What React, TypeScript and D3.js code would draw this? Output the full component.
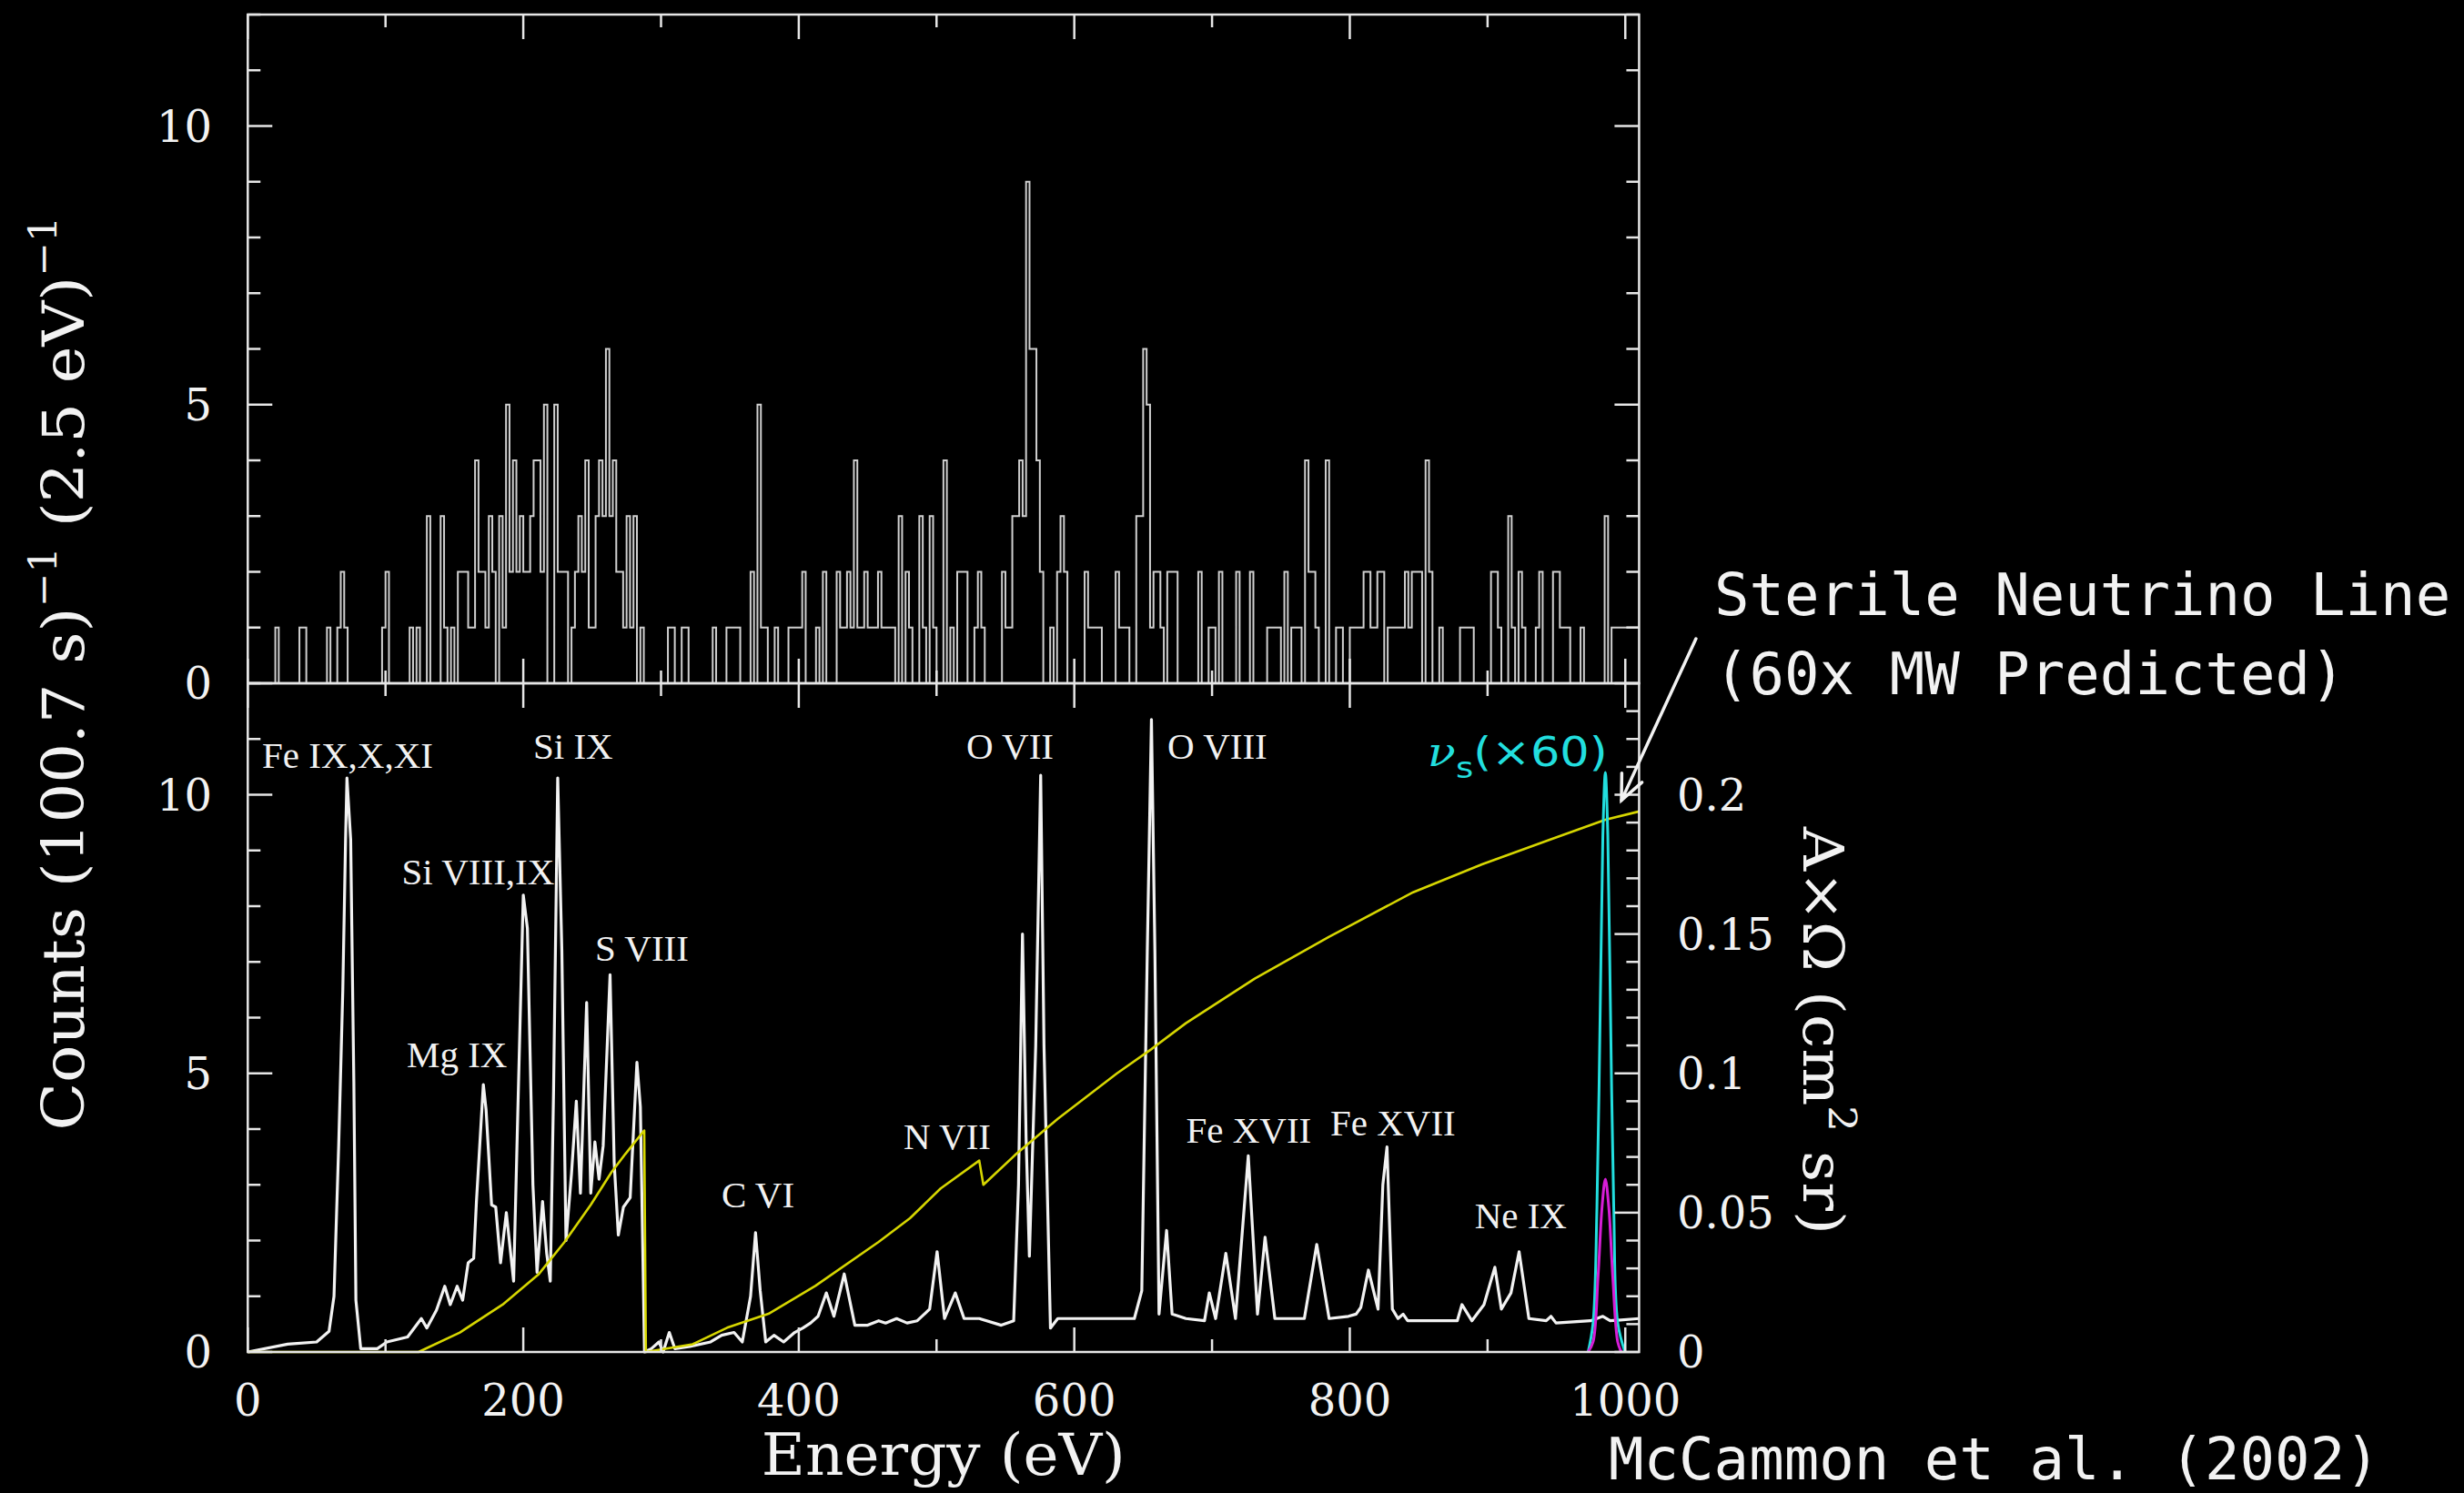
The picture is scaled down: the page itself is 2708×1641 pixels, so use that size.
import React from 'react';
import * as d3 from 'd3';

const W = 2708;
const H = 1641;

// ---------- data ----------
// Upper panel: raw counts per 2.5 eV bin, starting at 0 eV
const histBinWidth = 2.5;
const histCounts: number[] = [
  0,0,0,0,0,0,0,0,1,0, 0,0,0,0,0,1,1,0,0,0,
  0,0,0,1,0,0,1,2,1,0, 0,0,0,0,0,0,0,0,0,1,
  2,0,0,0,0,0,0,1,0,1, 0,0,3,0,0,0,3,1,0,1,
  0,2,2,2,1,1,4,2,2,1, 3,2,0,3,1,5,2,4,2,3,
  2,2,3,4,4,2,5,0,0,5, 2,2,2,0,1,2,3,2,4,1,
  1,3,4,3,6,3,4,2,2,1, 3,1,3,0,1,0,0,0,0,0,
  0,0,1,1,0,0,1,1,0,0, 0,0,0,0,0,1,0,0,0,1,
  1,1,1,0,0,0,2,0,5,1, 1,0,0,1,0,0,0,1,1,1,
  1,2,0,0,0,1,0,2,0,0, 0,2,1,1,2,1,4,1,1,2,
  1,1,1,2,1,1,1,1,0,3, 0,2,1,0,0,3,1,0,3,1,
  0,0,4,0,1,0,2,2,2,0, 0,1,2,1,0,0,0,0,0,2,
  1,1,3,3,4,3,9,6,6,4, 2,0,0,1,0,2,3,2,0,0,
  0,0,0,2,1,1,1,1,0,0, 0,0,2,1,1,1,0,0,3,3,
  6,5,1,2,2,1,0,2,2,2, 0,0,0,0,0,0,2,0,0,1,
  1,0,2,0,0,0,0,2,0,0, 0,2,0,0,0,0,1,1,1,1,
  0,2,0,1,1,1,0,4,2,2, 1,0,0,4,0,0,1,1,0,0,
  1,1,1,1,2,2,1,1,2,2, 0,1,1,1,1,1,2,1,2,2,
  2,0,4,2,0,0,1,0,0,0, 0,0,1,1,1,1,0,0,0,0,
  0,2,2,1,0,0,3,1,0,2, 1,0,0,0,1,2,0,0,0,2,
  2,1,1,1,0,0,0,1,0,0, 0,0,0,0,3,0,1,1,1,1,
  1,1,1,1,
];

// Lower panel: model spectrum [energy eV, counts]
const spectrum: [number, number][] = [
  [0,0],[29,0.14],[50,0.18],[59,0.37],[62.6,1.0],[66,3.7],[69,6.5],[71,9.2],[72,10.3],[74.7,9.2],[77,4.85],[78.5,0.93],[82,0.06],
  [94,0.06],[101,0.18],[116,0.27],[126,0.6],[130,0.43],[137,0.75],[143,1.18],[147,0.85],[152,1.18],[156,0.93],[160,1.6],[164,1.68],
  [166,2.7],[171,4.8],[173,4.35],[177,2.64],[180,2.6],[183.5,1.6],[187.7,2.5],[193,1.27],[196,4.27],[200,8.2],[203,7.6],[207,3.0],
  [210,1.43],[214,2.7],[217,1.77],[219.6,1.27],[222,4.7],[225,10.3],[228,7.2],[231,2.0],[235,3.2],[238.5,4.5],[241.5,2.85],
  [246,6.27],[249,2.85],[252,3.77],[255,3.1],[258,3.7],[263,6.77],[266,3.4],[269,2.1],[272.7,2.6],[277.6,2.77],[282.5,5.2],
  [285,4.4],[288,0],[293,0.06],[298.5,0.18],[301.5,0],[306,0.35],[310,0.06],[321,0.1],[336,0.18],[344,0.3],[353,0.35],
  [359,0.18],[365,1.0],[368.6,2.14],[372,1.1],[376,0.18],[382,0.3],[389,0.18],[397,0.35],[403,0.43],[408.6,0.52],[414,0.64],
  [420,1.06],[425.5,0.64],[433,1.4],[440.7,0.48],[450,0.48],[458,0.56],[463,0.52],[471,0.6],[478.6,0.52],[486,0.56],[495,0.77],
  [500.4,1.8],[505.8,0.6],[513.6,1.06],[520,0.6],[531,0.6],[547,0.48],[556,0.56],[559.5,3.0],[562.4,7.5],[565,3.85],[567.4,1.72],
  [572,5.5],[575.6,10.35],[578,5.5],[582.7,0.43],[588,0.6],[598.8,0.6],[624,0.6],[643.6,0.6],[649,1.1],[653,7.2],[656,11.35],
  [658.5,7.2],[661.5,0.68],[667,2.18],[671,0.68],[681,0.6],[694.5,0.56],[698,1.06],[702.6,0.6],[710,1.77],[717,0.6],[726.3,3.52],
  [733,0.68],[738.5,2.06],[745.6,0.6],[767,0.6],[776,1.93],[785,0.6],[799,0.64],[804.6,0.68],[808,0.8],[813.5,1.47],[820.5,0.77],
  [824,3.0],[827,3.68],[830.9,0.77],[835,0.6],[838.7,0.68],[842,0.56],[856.5,0.56],[878,0.56],[881.4,0.85],[888.6,0.56],
  [897.4,0.85],[905.3,1.52],[910,0.77],[917,1.06],[922.9,1.8],[930,0.6],[942.6,0.56],[946,0.64],[949.7,0.52],[974.8,0.56],
  [983.7,0.64],[989,0.56],[1010,0.6],
];

// Effective area A x Omega (cm^2 sr) [energy eV, value]
const effArea: [number, number][] = [
  [0,0],[124,0],[154,0.007],[185,0.017],[211,0.0278],[230,0.0395],[249,0.0528],[264,0.0645],[274,0.071],[287.8,0.0795],
  [289,0],[323,0.0028],[348,0.0087],[378,0.0137],[412,0.0237],[458,0.0395],[480.7,0.048],[503,0.0587],[531,0.0687],
  [534,0.06],[557.7,0.071],[588,0.0837],[631,0.1],[656,0.1087],[681,0.118],[731,0.134],[785,0.149],[846,0.165],[896,0.175],
  [946,0.184],[985.5,0.191],[1010,0.194],
];

// Sterile neutrino line (x60) and MW predicted, in counts
const nuScaled: [number, number][] = [
  [973.0,0],[976.6,0.52],[979.4,2.6],[981.9,6.35],[983.7,9.27],[985.5,10.4],[987.3,9.27],[989.1,6.35],[991.6,2.6],[994.5,0.52],[999.8,0],
];
const nuPredicted: [number, number][] = [
  [973.0,0],[976.6,0.18],[980.2,1.35],[983.1,2.6],[985.5,3.1],[988.0,2.6],[990.9,1.35],[994.5,0.18],[997.1,0],
];

const energyTickLabels = [0, 200, 400, 600, 800, 1000];
const countTickLabels = [0, 5, 10];
const areaTickLabels = [0, 0.05, 0.1, 0.15, 0.2];

// Line identifications: [label, energy at left edge, counts at baseline]
const lineLabels: [string, number, number][] = [
  ['Fe IX,X,XI', 10.4, 10.48],
  ['Si IX', 207.2, 10.64],
  ['Si VIII,IX', 111.8, 8.39],
  ['S VIII', 252.1, 7.02],
  ['Mg IX', 115.4, 5.11],
  ['C VI', 343.9, 2.6],
  ['N VII', 476, 3.64],
  ['O VII', 521.6, 10.64],
  ['O VIII', 667.6, 10.64],
  ['Fe XVII', 681.1, 3.76],
  ['Fe XVII', 785.8, 3.89],
  ['Ne IX', 890.6, 2.22],
];

export default function App() {
  const x = d3.scaleLinear().domain([0, 1010]).range([272.3, 1801.4]);
  const yTop = d3.scaleLinear().domain([0, 12]).range([751, 16]);
  const yBot = d3.scaleLinear().domain([0, 12]).range([1486, 751]);
  const yArea = d3.scaleLinear().domain([0, 0.24]).range([1486, 751]);

  const left = x(0), right = x(1010);
  const WHITE = '#f2f2f2';
  const AXIS = '#e6e6e6';
  const CYAN = '#22dede';
  const MAGENTA = '#d61ed6';
  const YELLOW = '#d6d600';

  const histPts: [number, number][] = histCounts.map((c, i) => [i * histBinWidth, c]);
  histPts.push([histCounts.length * histBinWidth, histCounts[histCounts.length - 1]]);
  const histPath = d3.line<[number, number]>().x(d => x(d[0])).y(d => yTop(d[1])).curve(d3.curveStepAfter)(histPts) || '';

  const lineBot = d3.line<[number, number]>().x(d => x(d[0])).y(d => yBot(d[1]));
  const lineArea = d3.line<[number, number]>().x(d => x(d[0])).y(d => yArea(d[1]));
  const lineNu = d3.line<[number, number]>().x(d => x(d[0])).y(d => yBot(d[1])).curve(d3.curveCatmullRom);

  const eTicks = d3.range(0, 1001, 100);
  const cTicks = d3.range(0, 13, 1);
  const aTicks = d3.range(0, 25, 1).map(v => v / 100);

  const ticks: JSX.Element[] = [];
  const panels = [
    { top: yTop(12), bot: yTop(0), y: yTop, hasArea: false },
    { top: yBot(12), bot: yBot(0), y: yBot, hasArea: true },
  ];
  panels.forEach((p, pi) => {
    eTicks.forEach(v => {
      const len = v % 200 === 0 ? 27 : 14;
      ticks.push(<line key={`xt${pi}-${v}`} x1={x(v)} x2={x(v)} y1={p.top} y2={p.top + len} />);
      ticks.push(<line key={`xb${pi}-${v}`} x1={x(v)} x2={x(v)} y1={p.bot} y2={p.bot - len} />);
    });
    cTicks.forEach(v => {
      const len = v % 5 === 0 ? 27 : 14;
      ticks.push(<line key={`yl${pi}-${v}`} x1={left} x2={left + len} y1={p.y(v)} y2={p.y(v)} />);
      if (!p.hasArea) ticks.push(<line key={`yr${pi}-${v}`} x1={right} x2={right - len} y1={p.y(v)} y2={p.y(v)} />);
    });
    if (p.hasArea) {
      aTicks.forEach((v, i) => {
        const len = i % 5 === 0 ? 27 : 14;
        ticks.push(<line key={`ar-${i}`} x1={right} x2={right - len} y1={yArea(v)} y2={yArea(v)} />);
      });
    }
  });

  // arrow for sterile neutrino annotation
  const tail: [number, number] = [x(1051.3), yBot(12.8)];
  const tip: [number, number] = [x(997.2), yBot(9.9)];
  const ang = Math.atan2(tip[1] - tail[1], tip[0] - tail[0]);
  const wing = 30, spread = 0.42;
  const w1 = [tip[0] - wing * Math.cos(ang - spread), tip[1] - wing * Math.sin(ang - spread)];
  const w2 = [tip[0] - wing * Math.cos(ang + spread), tip[1] - wing * Math.sin(ang + spread)];

  const serif = 'DejaVu Serif';
  const times = 'Liberation Serif';
  const mono = 'DejaVu Sans Mono';

  return (
    <svg width={W} height={H} style={{ position: 'absolute', left: 0, top: 0, display: 'block' }}>
      <rect x={0} y={0} width={W} height={H} fill="#000" />

      {/* upper histogram */}
      <path d={histPath} fill="none" stroke="#cfcfcf" strokeWidth={2} />

      {/* lower panel curves */}
      <path d={lineBot(spectrum) || ''} fill="none" stroke={WHITE} strokeWidth={3.2} strokeLinejoin="round" />
      <path d={lineArea(effArea) || ''} fill="none" stroke={YELLOW} strokeWidth={2.6} strokeLinejoin="round" />
      <path d={lineNu(nuScaled) || ''} fill="none" stroke={CYAN} strokeWidth={3} />
      <path d={lineNu(nuPredicted) || ''} fill="none" stroke={MAGENTA} strokeWidth={3} />

      {/* frames and ticks */}
      <g stroke={AXIS} strokeWidth={2.5} fill="none">
        <rect x={left} y={yTop(12)} width={right - left} height={yTop(0) - yTop(12)} />
        <rect x={left} y={yBot(12)} width={right - left} height={yBot(0) - yBot(12)} />
        {ticks}
      </g>

      {/* tick labels */}
      <g fill={WHITE} fontFamily={serif} fontSize={48}>
        {countTickLabels.map(v => (
          <text key={`lt${v}`} x={233} y={yTop(v)} dy="0.36em" textAnchor="end">{v}</text>
        ))}
        {countTickLabels.map(v => (
          <text key={`lb${v}`} x={233} y={yBot(v)} dy="0.36em" textAnchor="end">{v}</text>
        ))}
        {areaTickLabels.map(v => (
          <text key={`ra${v}`} x={1843} y={yArea(v)} dy="0.36em" textAnchor="start">{String(v)}</text>
        ))}
        {energyTickLabels.map(v => (
          <text key={`eb${v}`} x={x(v)} y={1556} textAnchor="middle">{v}</text>
        ))}
      </g>

      {/* axis titles */}
      <text x={x(505)} y={1621} fill={WHITE} fontFamily={serif} fontSize={64} textAnchor="middle"
        textLength={400} lengthAdjust="spacingAndGlyphs">Energy (eV)</text>
      <text transform={`translate(92,740) rotate(-90)`} fill={WHITE} fontFamily={serif} fontSize={64}
        textAnchor="middle" textLength={1005} lengthAdjust="spacingAndGlyphs">
        Counts (100.7 s)<tspan fontSize={42} dy={-30}>−1</tspan><tspan dy={30}> (2.5 eV)</tspan><tspan fontSize={42} dy={-30}>−1</tspan>
      </text>
      <text transform={`translate(1982,1133) rotate(90)`} fill={WHITE} fontFamily={serif} fontSize={62}
        textAnchor="middle" textLength={448} lengthAdjust="spacingAndGlyphs">
        A×Ω (cm<tspan fontSize={42} dy={-28}>2</tspan><tspan dy={28}> sr)</tspan>
      </text>

      {/* line identifications */}
      <g fill={WHITE} fontFamily={times} fontSize={41}>
        {lineLabels.map(([t, e, c], i) => (
          <text key={`ll${i}`} x={x(e)} y={yBot(c)}>{t}</text>
        ))}
      </g>

      {/* nu_s label */}
      <g transform={`translate(${x(856.4)},${yBot(10.51)}) scale(1.16,1)`}>
        <text x={0} y={0} fill={CYAN} fontFamily="DejaVu Sans" fontSize={44}>
          <tspan fontFamily={serif} fontStyle="italic">ν</tspan>
          <tspan fontSize={32} dy={13}>s</tspan>
          <tspan dy={-13}>(×60)</tspan>
        </text>
      </g>

      {/* annotation */}
      <g stroke={WHITE} strokeWidth={3.5} fill="none" strokeLinecap="round">
        <line x1={tail[0]} y1={tail[1]} x2={tip[0]} y2={tip[1]} />
        <polyline points={`${w1[0]},${w1[1]} ${tip[0]},${tip[1]} ${w2[0]},${w2[1]}`} />
      </g>
      <g fill={WHITE} fontFamily={mono} fontSize={64}>
        <text x={1884} y={676}>Sterile Neutrino Line</text>
        <text x={1884} y={763}>(60x MW Predicted)</text>
        <text x={1768} y={1626}>McCammon et al. (2002)</text>
      </g>
    </svg>
  );
}
